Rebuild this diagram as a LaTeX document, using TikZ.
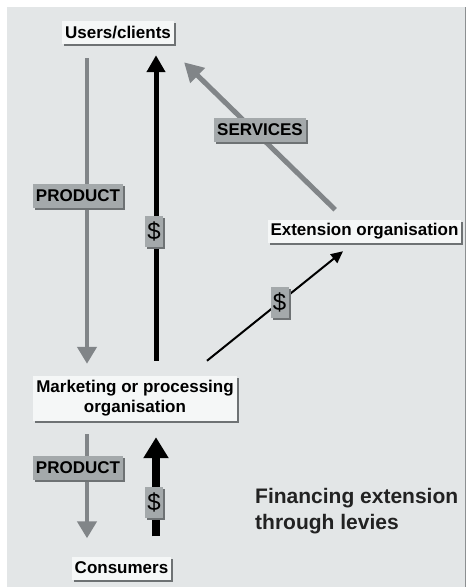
\documentclass[tikz,border=0pt]{standalone}
\usepackage{fontspec}
\setmainfont{Liberation Sans}
\usetikzlibrary{arrows.meta,shadows}

\definecolor{panel}{RGB}{227,230,231}
\definecolor{paneledge}{RGB}{140,143,145}
\definecolor{boxwhite}{RGB}{245,247,247}
\definecolor{shade}{RGB}{110,114,116}
\definecolor{taggray}{RGB}{164,169,171}
\definecolor{flowgray}{RGB}{129,133,136}
\definecolor{ink}{RGB}{34,34,34}

\tikzset{
  party/.style={fill=boxwhite, general shadow={fill=shade, shadow xshift=2pt, shadow yshift=-2pt},
    font=\fontsize{17}{20}\selectfont\bfseries, inner xsep=3pt, inner ysep=0pt,
    minimum height=23pt, align=center},
  tag/.style={fill=taggray, general shadow={fill=shade, shadow xshift=2pt, shadow yshift=-2pt},
    font=\fontsize{17}{20}\selectfont\bfseries, inner xsep=3pt, inner ysep=0pt, minimum height=24pt},
  dollar/.style={tag, font=\fontsize{24}{24}\selectfont, inner sep=0pt, minimum width=18pt, minimum height=31pt},
  goods/.style={draw=flowgray, line width=4.5pt, -{Triangle[width=19pt,length=17pt]}, color=flowgray},
  money/.style={draw=black, line width=5pt, -{Triangle[width=18pt,length=17pt]}},
}

\begin{document}
\begin{tikzpicture}[x=1pt, y=-1pt]
  \useasboundingbox (0,0) rectangle (468,587);
  \fill[panel] (7,7) rectangle (466,587);
  \draw[paneledge, line width=1pt] (465.5,7) -- (465.5,587);

  \coordinate (laneL) at (87,0);
  \coordinate (laneR) at (156,0);

  \node[party] (users) at (118,32.5) {Users/clients};
  \node[party] (ext) at (364.5,231.5) {Extension organisation};
  \node[party, minimum height=45pt] (mkt) at (135,398.5) {Marketing or processing\\organisation};
  \node[party] (cons) at (121.5,568) {Consumers};

  \draw[goods, shorten <=14pt, shorten >=12pt] (users.south -| laneL) -- (mkt.north -| laneL);
  \draw[money, shorten <=15pt, shorten >=11pt] (mkt.north -| laneR) -- (users.south -| laneR);
  \draw[goods, line width=5pt, -{Triangle[width=20pt,length=19pt]}, shorten <=14.4pt, shorten >=25.9pt]
    ([xshift=-19pt]ext.north) -- ([xshift=-8.6pt]users.south east);
  \draw[line width=2pt, -{Triangle[width=11pt,length=12pt]}, shorten <=24pt, shorten >=12.8pt]
    ([xshift=53.3pt]mkt.north) -- ([xshift=-11.5pt]ext.south);
  \draw[goods, shorten <=13pt, shorten >=18pt] (mkt.south -| laneL) -- (cons.north -| laneL);
  \draw[money, line width=8pt, -{Triangle[width=24pt,length=21pt]}, shorten <=20pt, shorten >=16pt]
    (cons.north -| laneR) -- (mkt.south -| laneR);

  \node[tag] (prodtop) at (78,196) {PRODUCT};
  \node[tag] (serv) at (260,129.5) {SERVICES};
  \node[dollar] (paytop) at (154,231.5) {\$};
  \node[dollar] (levy) at (279.5,302) {\$};
  \node[tag] (prodbot) at (78,467.5) {PRODUCT};
  \node[dollar] (paybot) at (154,502) {\$};

  \node[anchor=north west, align=left, inner sep=0pt, text=ink,
    font=\fontsize{21}{26}\selectfont\bfseries] (note) at (255,488.5) {Financing extension\\through levies};
\end{tikzpicture}
\end{document}
